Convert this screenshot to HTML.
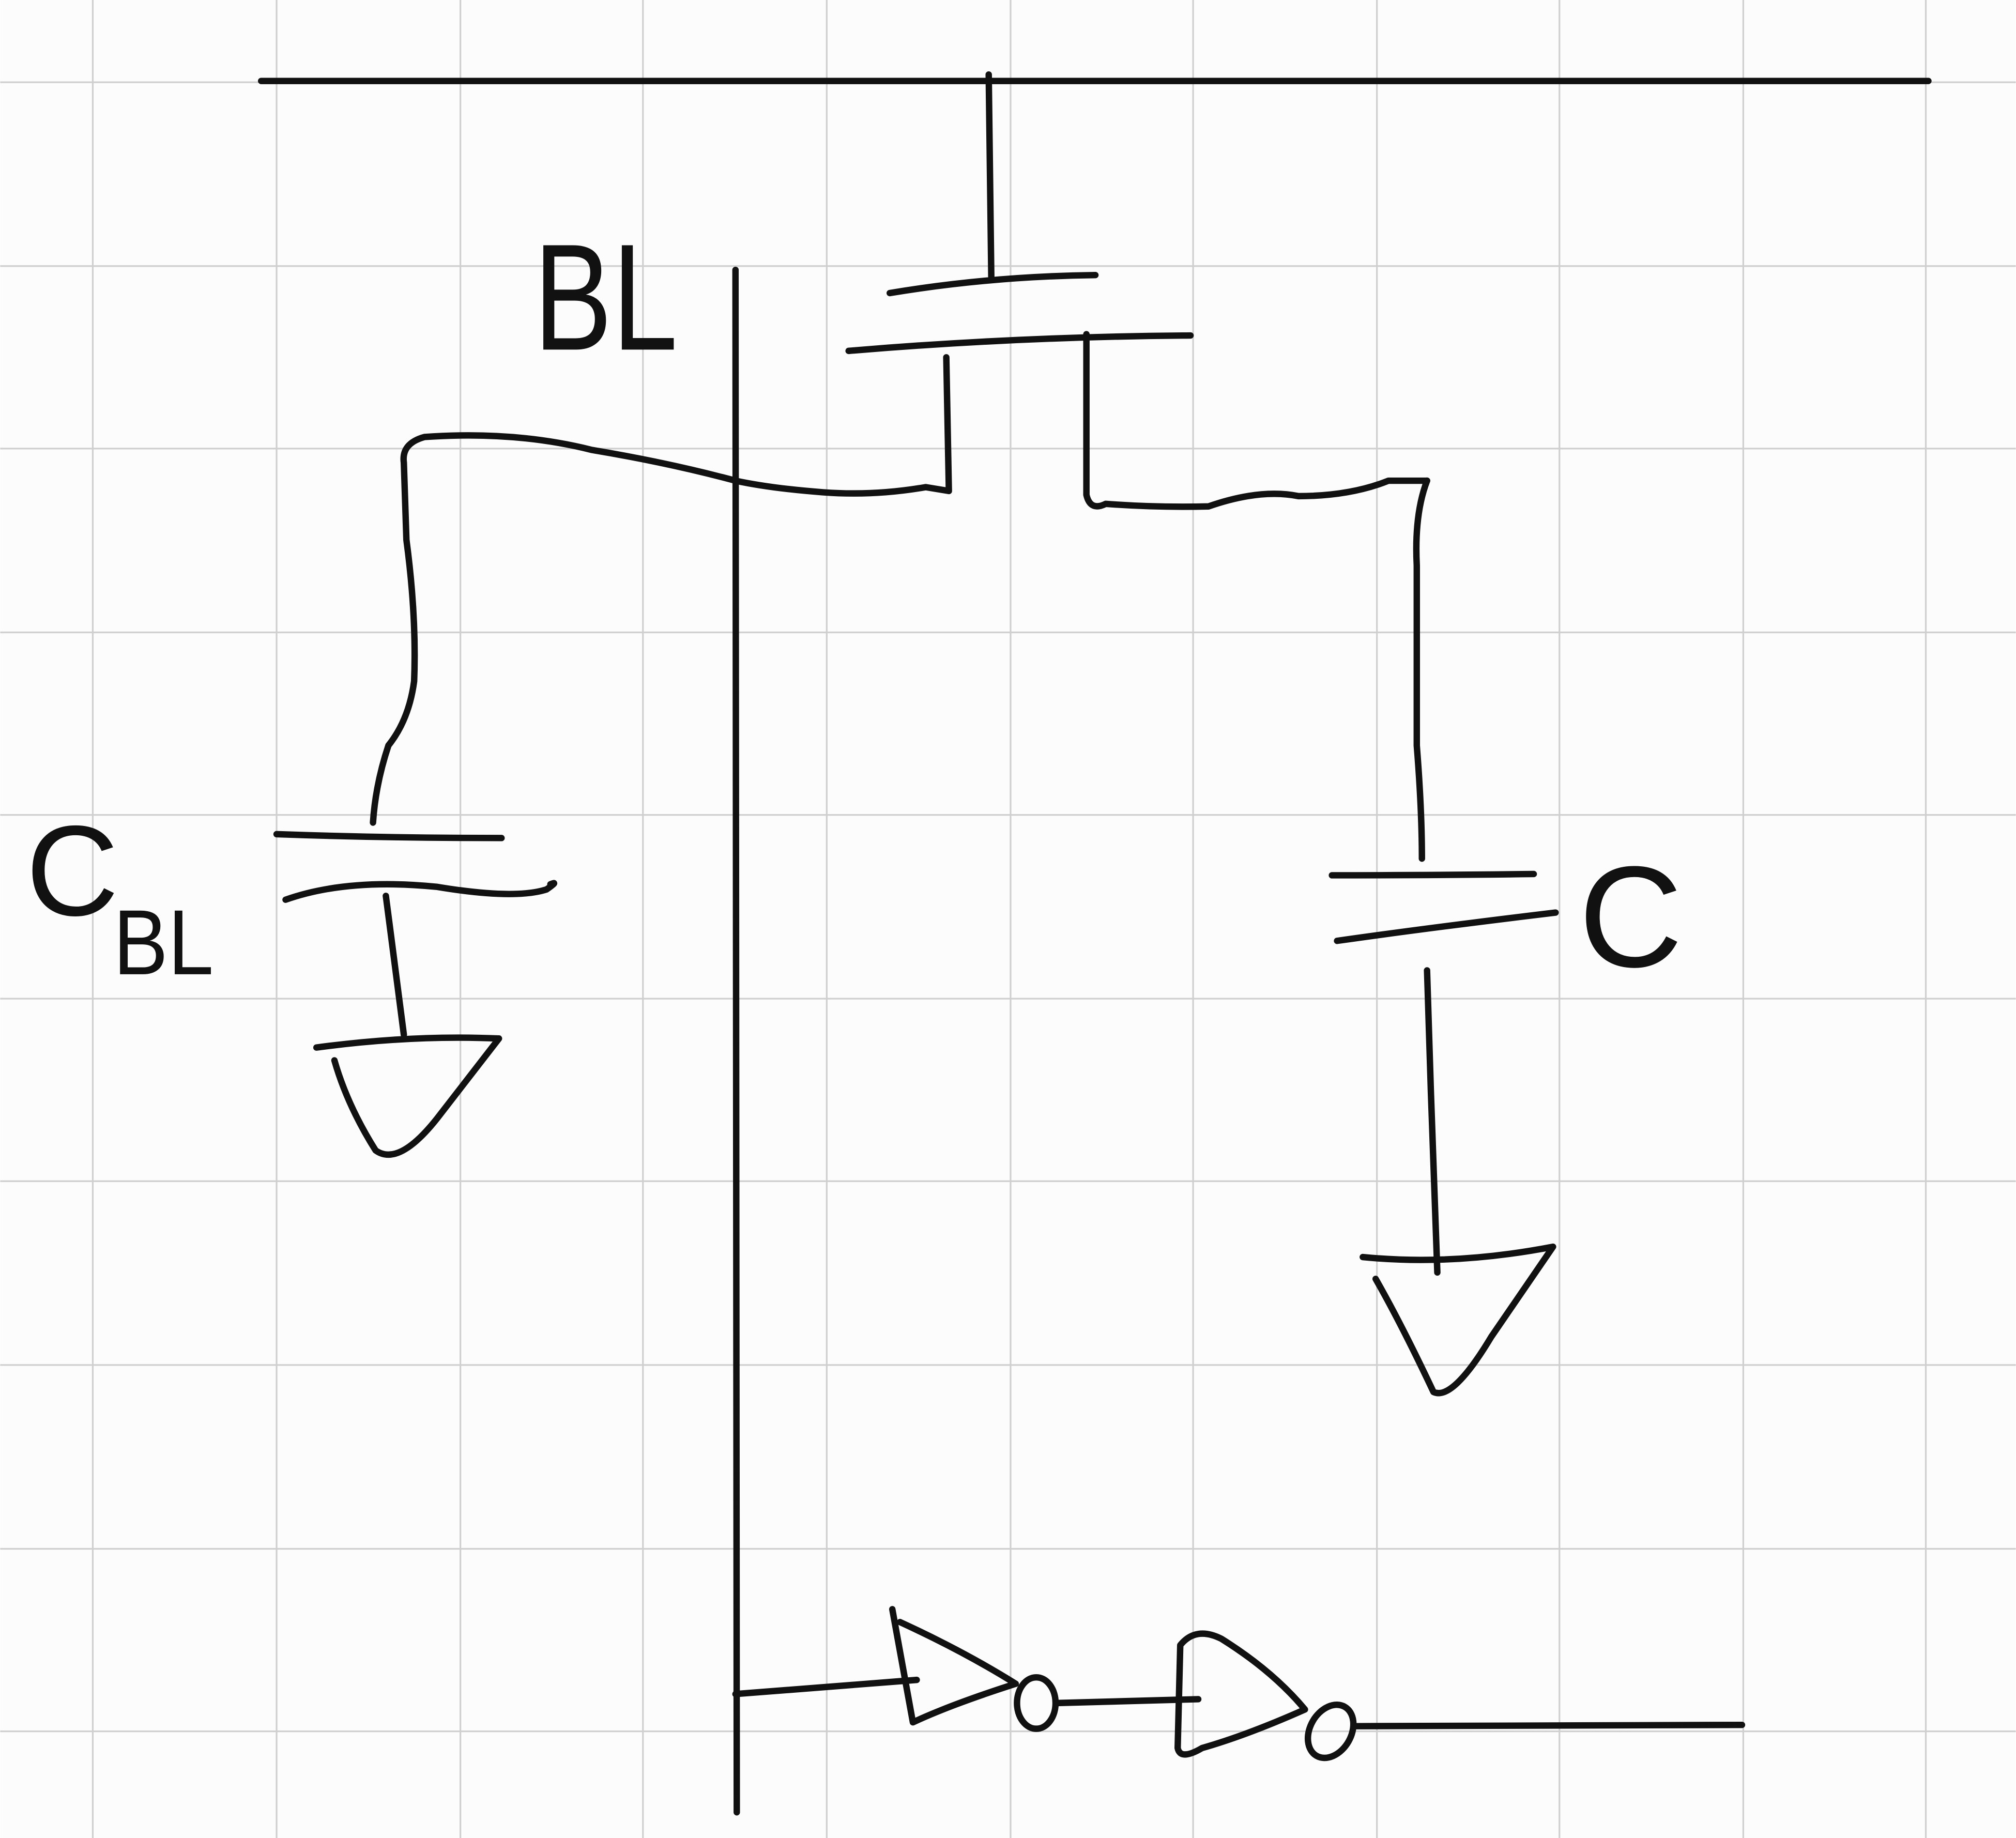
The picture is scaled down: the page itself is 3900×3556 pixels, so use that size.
<!DOCTYPE html>
<html><head><meta charset="utf-8"><style>
html,body{margin:0;padding:0;background:#fff;}
svg{display:block;}
</style></head><body>
<svg width="3900" height="3556" viewBox="0 0 1568 1430" xmlns="http://www.w3.org/2000/svg">
<rect width="1568" height="1430" fill="#fcfcfc"/>
<g stroke="#cfcfcf" stroke-width="1.3">
<line x1="72" y1="0" x2="72" y2="1430"/><line x1="215" y1="0" x2="215" y2="1430"/>
<line x1="358" y1="0" x2="358" y2="1430"/><line x1="500" y1="0" x2="500" y2="1430"/>
<line x1="643" y1="0" x2="643" y2="1430"/><line x1="786" y1="0" x2="786" y2="1430"/>
<line x1="928" y1="0" x2="928" y2="1430"/><line x1="1071" y1="0" x2="1071" y2="1430"/>
<line x1="1213" y1="0" x2="1213" y2="1430"/><line x1="1356" y1="0" x2="1356" y2="1430"/>
<line x1="1498" y1="0" x2="1498" y2="1430"/>
<line x1="0" y1="64" x2="1568" y2="64"/><line x1="0" y1="207" x2="1568" y2="207"/>
<line x1="0" y1="349" x2="1568" y2="349"/><line x1="0" y1="492" x2="1568" y2="492"/>
<line x1="0" y1="634" x2="1568" y2="634"/><line x1="0" y1="777" x2="1568" y2="777"/>
<line x1="0" y1="919" x2="1568" y2="919"/><line x1="0" y1="1062" x2="1568" y2="1062"/>
<line x1="0" y1="1205" x2="1568" y2="1205"/><line x1="0" y1="1347" x2="1568" y2="1347"/>
</g>
<g fill="none" stroke="#111" stroke-width="5" stroke-linecap="round" stroke-linejoin="round">
<path d="M203 63 L1500 63"/>
<path d="M769 58 L771 215"/>
<path d="M692 228 Q770 215 852 214"/>
<path d="M660 273 Q790 262 926 261"/>
<path d="M736 278 L738 382 L720 379 Q680 386 640 383 Q600 380 572 374"/>
<path d="M845 260 L845 385 Q848 398 860 392 Q900 395 940 394 Q980 380 1010 386 Q1050 386 1080 374 L1110 374"/>
<path d="M572 210 L573 1410"/>
<path d="M572 374 Q520 360 460 350 Q400 335 330 340 Q312 345 314 360 L316 420 Q324 480 322 530 Q318 560 302 580 Q292 610 290 640"/>
<path d="M215 649 Q300 652 390 652"/>
<path d="M222 700 Q270 683 340 690 Q400 700 425 692 Q435 685 428 688"/>
<path d="M300 697 L303 720 L314 805"/>
<path d="M246 815 Q320 805 388 808 L340 870 Q310 908 292 895 Q270 860 260 825"/>
<path d="M1110 374 Q1100 400 1102 440 L1102 580 Q1106 630 1106 668"/>
<path d="M1036 681 Q1110 681 1193 680"/>
<path d="M1040 732 Q1110 722 1210 710"/>
<path d="M1110 755 L1113 850 L1118 990"/>
<path d="M1060 978 Q1130 985 1208 970 L1160 1040 Q1130 1090 1115 1083 Q1090 1030 1070 995"/>
<path d="M572 1318 L713 1307"/>
<path d="M694 1252 L710 1340 Q740 1326 790 1310 M700 1262 Q750 1285 790 1310"/>
<ellipse cx="806" cy="1325" rx="15" ry="20"/>
<path d="M822 1325 L932 1322"/>
<path d="M918 1280 Q930 1265 950 1275 Q990 1300 1015 1330 Q970 1350 935 1360 Q918 1370 916 1360 Z"/>
<ellipse cx="1035" cy="1347" rx="16" ry="22" transform="rotate(30 1035 1347)"/>
<path d="M1055 1343 L1355 1342"/>
</g>
<g fill="#111" font-family="Liberation Sans, sans-serif" font-weight="300">
<text x="415" y="272" font-size="118" textLength="112" lengthAdjust="spacingAndGlyphs">BL</text>
<text x="20" y="712" font-size="100">C</text>
<text x="88" y="758" font-size="72" textLength="78" lengthAdjust="spacingAndGlyphs">BL</text>
<text x="1228" y="752" font-size="112">C</text>
</g>
</svg>
</body></html>
